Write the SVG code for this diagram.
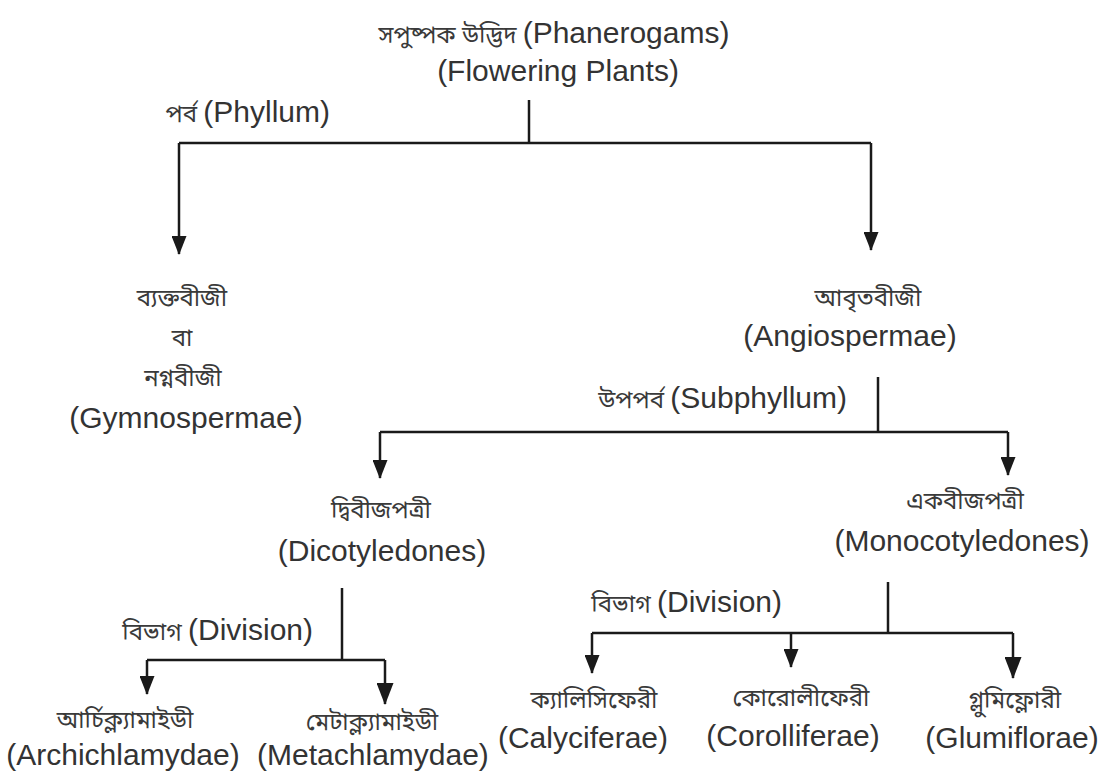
<svg xmlns="http://www.w3.org/2000/svg" width="1114" height="774" viewBox="0 0 1114 774">
<style>
.en{font-family:"Liberation Sans",Arial,sans-serif;font-size:30px;fill:#333;}
.bn{font-family:"Noto Sans Bengali","Noto Serif Bengali","Lohit Bengali","FreeSans","Noto Sans",sans-serif;font-size:24px;fill:#3a3a3a;}
.c{text-anchor:middle;}
.e{text-anchor:end;}
.ln{fill:none;stroke:#1a1a1a;stroke-width:2.5;}
</style>
<defs>
<marker id="ah" markerUnits="userSpaceOnUse" markerWidth="19" markerHeight="15" refX="18" refY="7.5" orient="auto" viewBox="0 0 19 15">
<path d="M0,0 L19,7.5 L0,15 Z" fill="#1a1a1a"/>
</marker>
<marker id="ahl" markerUnits="userSpaceOnUse" markerWidth="22" markerHeight="17" refX="21" refY="8.5" orient="auto" viewBox="0 0 22 17">
<path d="M0,0 L22,8.5 L0,17 Z" fill="#1a1a1a"/>
</marker>
</defs>
<rect width="1114" height="774" fill="#fff"/>
<g id="connectors">
<path class="ln" d="M529,100 V143"/>
<path class="ln" d="M179,143 H871"/>
<path class="ln" d="M179,143 V254" marker-end="url(#ah)"/>
<path class="ln" d="M871,143 V250" marker-end="url(#ah)"/>
<path class="ln" d="M878,377 V432"/>
<path class="ln" d="M380,432 H1008"/>
<path class="ln" d="M380,432 V478" marker-end="url(#ah)"/>
<path class="ln" d="M1008,432 V475" marker-end="url(#ah)"/>
<path class="ln" d="M342,588 V660"/>
<path class="ln" d="M147,660 H385"/>
<path class="ln" d="M147,660 V694" marker-end="url(#ah)"/>
<path class="ln" d="M385,660 V704" marker-end="url(#ahl)"/>
<path class="ln" d="M888,582 V633"/>
<path class="ln" d="M592,633 H1013"/>
<path class="ln" d="M592,633 V673" marker-end="url(#ah)"/>
<path class="ln" d="M791,633 V667" marker-end="url(#ah)"/>
<path class="ln" d="M1013,633 V678" marker-end="url(#ahl)"/>
</g>
<g id="labels">
<text class="en e" x="330" y="122"><tspan class="bn">পর্ব </tspan>(Phyllum)</text>
<text class="en e" x="847" y="408"><tspan class="bn">উপপর্ব </tspan>(Subphyllum)</text>
<text class="en e" x="313" y="640"><tspan class="bn">বিভাগ </tspan>(Division)</text>
<text class="en e" x="782" y="612"><tspan class="bn">বিভাগ </tspan>(Division)</text>
</g>
<g id="root">
<text class="en c" x="554" y="43"><tspan class="bn">সপুষ্পক উদ্ভিদ </tspan>(Phanerogams)</text>
<text class="en c" x="558" y="81">(Flowering Plants)</text>
</g>
<g id="gymnospermae">
<text class="bn c" x="182" y="306">ব্যক্তবীজী</text>
<text class="bn c" x="182" y="346">বা</text>
<text class="bn c" x="183" y="386">নগ্নবীজী</text>
<text class="en c" x="186" y="428">(Gymnospermae)</text>
</g>
<g id="angiospermae">
<text class="bn c" x="868" y="306">আবৃতবীজী</text>
<text class="en c" x="850" y="346">(Angiospermae)</text>
</g>
<g id="dicotyledones">
<text class="bn c" x="381" y="518">দ্বিবীজপত্রী</text>
<text class="en c" x="382" y="561">(Dicotyledones)</text>
</g>
<g id="monocotyledones">
<text class="bn c" x="965" y="509">একবীজপত্রী</text>
<text class="en c" x="962" y="551">(Monocotyledones)</text>
</g>
<g id="archichlamydae">
<text class="bn c" x="125" y="728">আর্চিক্ল্যামাইডী</text>
<text class="en c" x="123" y="765">(Archichlamydae)</text>
</g>
<g id="metachlamydae">
<text class="bn c" x="372" y="730">মেটাক্ল্যামাইডী</text>
<text class="en c" x="373" y="765">(Metachlamydae)</text>
</g>
<g id="calyciferae">
<text class="bn c" x="594" y="708">ক্যালিসিফেরী</text>
<text class="en c" x="583" y="748">(Calyciferae)</text>
</g>
<g id="corolliferae">
<text class="bn c" x="801" y="706">কোরোলীফেরী</text>
<text class="en c" x="793" y="746">(Corolliferae)</text>
</g>
<g id="glumiflorae">
<text class="bn c" x="1015" y="708">গ্লুমিফ্লোরী</text>
<text class="en c" x="1012" y="748">(Glumiflorae)</text>
</g>
</svg>
